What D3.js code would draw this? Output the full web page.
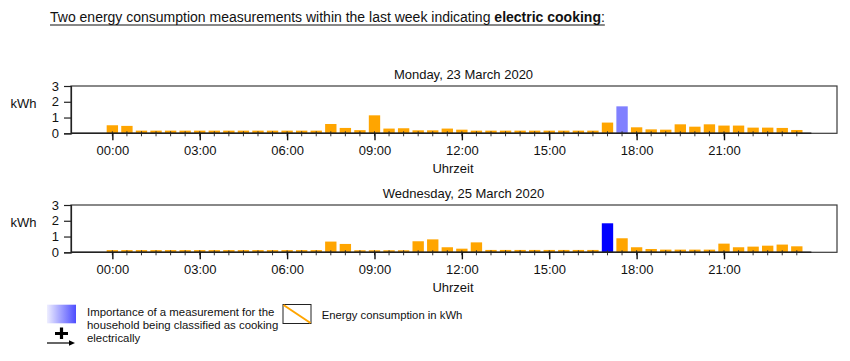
<!DOCTYPE html>
<html>
<head>
<meta charset="utf-8">
<script src="https://cdn.jsdelivr.net/npm/d3@7"></script>
<style>
  html, body { margin: 0; padding: 0; background: #fff; }
  svg { display: block; font-family: "Liberation Sans", Arial, Helvetica, sans-serif; }
</style>
</head>
<body>
<svg id="chart" width="850" height="361"></svg>
<script>
// ---- Data ----
const slots = ["00:00","00:30","01:00","01:30","02:00","02:30","03:00","03:30","04:00","04:30","05:00","05:30",
  "06:00","06:30","07:00","07:30","08:00","08:30","09:00","09:30","10:00","10:30","11:00","11:30",
  "12:00","12:30","13:00","13:30","14:00","14:30","15:00","15:30","16:00","16:30","17:00","17:30",
  "18:00","18:30","19:00","19:30","20:00","20:30","21:00","21:30","22:00","22:30","23:00","23:30"];

const mondayValues = [0.51,0.47,0.17,0.17,0.17,0.17,0.17,0.17,0.17,0.17,0.17,0.17,
  0.17,0.17,0.17,0.59,0.34,0.20,1.14,0.30,0.32,0.19,0.19,0.30,
  0.23,0.17,0.17,0.17,0.17,0.17,0.17,0.17,0.17,0.17,0.68,1.71,
  0.38,0.25,0.23,0.57,0.42,0.57,0.49,0.49,0.36,0.36,0.34,0.21];

const wednesdayValues = [0.14,0.14,0.14,0.14,0.14,0.14,0.14,0.14,0.14,0.14,0.14,0.14,
  0.14,0.14,0.14,0.68,0.53,0.13,0.13,0.13,0.13,0.70,0.82,0.32,
  0.23,0.63,0.15,0.15,0.15,0.15,0.15,0.15,0.15,0.15,1.84,0.89,
  0.32,0.21,0.17,0.17,0.17,0.17,0.55,0.32,0.36,0.42,0.49,0.38];

// importance of the flagged measurement (0..1) for each day
const importantSlots = ["17:30", "17:00"];
const importanceValues = [0.5, 1.0];

const dayTitles = ["Monday, 23 March 2020", "Wednesday, 25 March 2020"];
const dayValues = [mondayValues, wednesdayValues];

const majorTickLabels = ["00:00","03:00","06:00","09:00","12:00","15:00","18:00","21:00"];
const yTicks = [0, 1, 2, 3];

const titleText = "Two energy consumption measurements within the last week indicating ";
const titleBold = "electric cooking";
const legendImportance = ["Importance of a measurement for the", "household being classified as cooking", "electrically"];
const legendEnergy = "Energy consumption in kWh";
const xLabel = "Uhrzeit";
const yLabel = "kWh";

// ---- Helpers ----
const toHours = s => { const [h, m] = s.split(":").map(Number); return h + m / 60; };
const svg = d3.select("#chart");
const orange = "#FFA500";
const importanceColor = d3.scaleLinear().domain([0, 1]).range(["#ffffff", "#0000ff"]);

// ---- Title ----
const title = svg.append("text").attr("x", 50).attr("y", 22)
  .attr("font-size", 14).attr("fill", "#111");
title.append("tspan").text(titleText).style("white-space", "pre");
title.append("tspan").attr("font-weight", "bold").text(titleBold);
title.append("tspan").text(":");
const tb = title.node().getBBox();
svg.append("line").attr("x1", tb.x).attr("x2", tb.x + tb.width)
  .attr("y1", 25).attr("y2", 25).attr("stroke", "#111").attr("stroke-width", 1);

// ---- Panels ----
const left = 71, right = 837;
const x = d3.scaleLinear().domain([-1.42, 24.88]).range([left, right]);
const step = x(0.5) - x(0);
const barW = step * 0.78;

const panelTops = [86, 205];
const panelH = 47.3;

dayValues.forEach((vals, p) => {
  const top = panelTops[p], bottom = top + panelH;
  const y = d3.scaleLinear().domain([0, 3]).range([bottom, top]);
  const g = svg.append("g");

  // subtitle
  g.append("text").attr("x", 463.5).attr("y", top - 6.7).attr("text-anchor", "middle")
    .attr("font-size", 13).attr("fill", "#111").text(dayTitles[p]);

  // bars
  g.selectAll("rect.bar").data(slots).join("rect")
    .attr("class", "bar")
    .attr("x", d => x(toHours(d)) - barW / 2)
    .attr("width", barW)
    .attr("y", (d, i) => y(vals[i]))
    .attr("height", (d, i) => y(0) - y(vals[i]))
    .attr("fill", d => d === importantSlots[p] ? importanceColor(importanceValues[p]) : orange);

  // frame
  g.append("rect").attr("x", left).attr("y", top).attr("width", right - left).attr("height", panelH)
    .attr("fill", "none").attr("stroke", "#3a3a3a").attr("stroke-width", 1.2);

  // y axis
  const yAxis = g.append("g").attr("transform", `translate(${left},0)`)
    .call(d3.axisLeft(y).tickValues(yTicks).tickFormat(d3.format("d")).tickSize(7).tickPadding(5));
  yAxis.select(".domain").attr("stroke", "#222").attr("stroke-width", 1.2);
  yAxis.selectAll(".tick line").attr("stroke", "#222").attr("stroke-width", 1.2);
  yAxis.selectAll("text").attr("font-size", 13).attr("fill", "#111");
  yAxis.attr("font-family", null);

  // x axis: minor ticks every half hour
  g.append("g").selectAll("line").data(slots).join("line")
    .attr("x1", d => x(toHours(d))).attr("x2", d => x(toHours(d)))
    .attr("y1", bottom - 2).attr("y2", bottom + 3)
    .attr("stroke", "#333").attr("stroke-width", 1);

  const xAxis = g.append("g").attr("transform", `translate(0,${bottom})`)
    .call(d3.axisBottom(x).tickValues(majorTickLabels.map(toHours))
      .tickFormat((d, i) => majorTickLabels[i]).tickSize(7).tickPadding(5));
  xAxis.select(".domain").attr("d", `M${x(-1.42)},0H${x(24)}`).attr("stroke", "#222").attr("stroke-width", 1.5);
  xAxis.selectAll(".tick line").attr("stroke", "#111").attr("stroke-width", 1.4);
  xAxis.selectAll("text").attr("font-size", 13).attr("fill", "#111");
  xAxis.attr("font-family", null);

  // axis titles
  g.append("text").attr("x", 453).attr("y", bottom + 39.2).attr("text-anchor", "middle")
    .attr("font-size", 13).attr("fill", "#111").text(xLabel);
  g.append("text").attr("x", 23.5).attr("y", top + 21.5).attr("text-anchor", "middle")
    .attr("font-size", 13).attr("fill", "#111").text(yLabel);
});

// ---- Legend ----
const defs = svg.append("defs");
const grad = defs.append("linearGradient").attr("id", "impGrad");
grad.append("stop").attr("offset", "0%").attr("stop-color", "#eeeeff");
grad.append("stop").attr("offset", "100%").attr("stop-color", importanceColor(0.7));

svg.append("rect").attr("x", 47).attr("y", 304.7).attr("width", 29).attr("height", 18.6)
  .attr("fill", "url(#impGrad)");
// plus sign
svg.append("path").attr("d", "M55,333.5H68M61.5,327.5V339").attr("stroke", "#000").attr("stroke-width", 3.2);
// arrow
svg.append("line").attr("x1", 47).attr("x2", 71).attr("y1", 343).attr("y2", 343).attr("stroke", "#000").attr("stroke-width", 1.2);
svg.append("path").attr("d", "M75,343L69,340.2L69,345.8Z").attr("fill", "#000");

legendImportance.forEach((t, i) => {
  svg.append("text").attr("x", 87).attr("y", 315.7 + i * 13).attr("font-size", 11.4).attr("fill", "#111").text(t);
});

svg.append("rect").attr("x", 283).attr("y", 304.5).attr("width", 28).attr("height", 19)
  .attr("fill", "#fff").attr("stroke", "#222").attr("stroke-width", 1);
svg.append("line").attr("x1", 283.5).attr("y1", 305).attr("x2", 310.5).attr("y2", 323)
  .attr("stroke", orange).attr("stroke-width", 2);
svg.append("text").attr("x", 321.7).attr("y", 319).attr("font-size", 11.3).attr("fill", "#111").text(legendEnergy);
</script>
</body>
</html>
